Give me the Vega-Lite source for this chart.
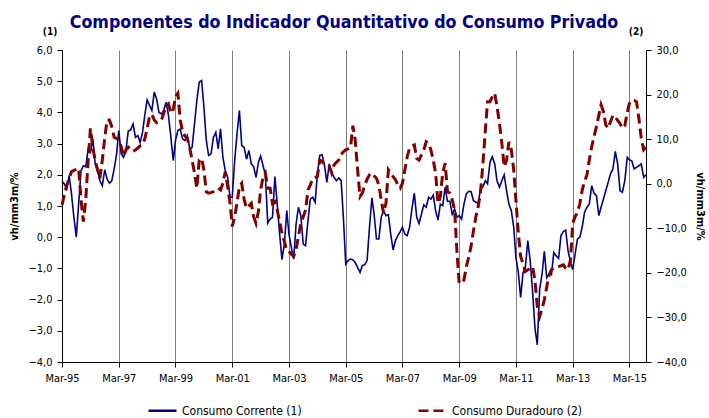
{
"$schema":"https://vega.github.io/schema/vega-lite/v6.json",
"autosize":{"type":"none"},
"padding":{"left":62,"top":50,"right":63,"bottom":56},
"width":584,"height":312,
"config":{"view":{"stroke":null},"font":"DejaVu Sans Condensed, DejaVu Sans","axis":{"labelColor":"#000","domainColor":"#000","tickColor":"#000","labelFontSize":11,"titleFontSize":11,"titleFontWeight":"bold","titleColor":"#000","labelOverlap":false}},
"title":{"text":"Componentes do Indicador Quantitativo do Consumo Privado","fontSize":17.7,"fontWeight":"bold","color":"#000080","anchor":"middle","offset":14,"dx":-10,"dy":19},
"data":{"values":[
{"mes":"1995-03","corrente":1.79,"duradouro":-4.75},{"mes":"1995-04","corrente":1.70,"duradouro":-2.5},{"mes":"1995-05","corrente":1.55,"duradouro":-0.3},{"mes":"1995-06","corrente":1.97,"duradouro":1.2},{"mes":"1995-07","corrente":1.39,"duradouro":2.7},{"mes":"1995-08","corrente":0.64,"duradouro":3.0},{"mes":"1995-09","corrente":0.0,"duradouro":3.2},{"mes":"1995-10","corrente":1.06,"duradouro":3.5},{"mes":"1995-11","corrente":2.13,"duradouro":-3.6},{"mes":"1995-12","corrente":2.29,"duradouro":-8.5},
{"mes":"1996-01","corrente":2.26,"duradouro":-3.6},{"mes":"1996-02","corrente":2.83,"duradouro":5.3},{"mes":"1996-03","corrente":2.72,"duradouro":12.4},{"mes":"1996-04","corrente":3.15,"duradouro":8.0},{"mes":"1996-05","corrente":2.35,"duradouro":5.3},{"mes":"1996-06","corrente":2.13,"duradouro":3.1},{"mes":"1996-07","corrente":1.81,"duradouro":1.2},{"mes":"1996-08","corrente":1.65,"duradouro":5.3},{"mes":"1996-09","corrente":2.16,"duradouro":10.2},{"mes":"1996-10","corrente":1.87,"duradouro":14.3},{"mes":"1996-11","corrente":1.73,"duradouro":14.3},{"mes":"1996-12","corrente":1.81,"duradouro":12.8},
{"mes":"1997-01","corrente":2.19,"duradouro":10.4},{"mes":"1997-02","corrente":2.67,"duradouro":10.2},{"mes":"1997-03","corrente":3.42,"duradouro":9.8},{"mes":"1997-04","corrente":2.67,"duradouro":8.3},{"mes":"1997-05","corrente":2.56,"duradouro":6.1},{"mes":"1997-06","corrente":2.78,"duradouro":7.6},{"mes":"1997-07","corrente":3.40,"duradouro":8.2},{"mes":"1997-08","corrente":3.44,"duradouro":7.7},{"mes":"1997-09","corrente":3.63,"duradouro":7.2},{"mes":"1997-10","corrente":3.20,"duradouro":7.6},{"mes":"1997-11","corrente":3.26,"duradouro":8.0},{"mes":"1997-12","corrente":3.04,"duradouro":8.5},
{"mes":"1998-01","corrente":3.36,"duradouro":8.7},{"mes":"1998-02","corrente":3.95,"duradouro":10.2},{"mes":"1998-03","corrente":4.40,"duradouro":12.4},{"mes":"1998-04","corrente":4.22,"duradouro":15.1},{"mes":"1998-05","corrente":4.06,"duradouro":15.6},{"mes":"1998-06","corrente":4.65,"duradouro":14.3},{"mes":"1998-07","corrente":4.43,"duradouro":13.7},{"mes":"1998-08","corrente":4.0,"duradouro":13.9},{"mes":"1998-09","corrente":3.95,"duradouro":14.3},{"mes":"1998-10","corrente":4.06,"duradouro":15.8},{"mes":"1998-11","corrente":4.33,"duradouro":17.4},{"mes":"1998-12","corrente":3.90,"duradouro":17.9},
{"mes":"1999-01","corrente":3.20,"duradouro":15.8},{"mes":"1999-02","corrente":2.45,"duradouro":16.7},{"mes":"1999-03","corrente":3.10,"duradouro":19.5},{"mes":"1999-04","corrente":3.42,"duradouro":20.3},{"mes":"1999-05","corrente":3.47,"duradouro":14.3},{"mes":"1999-06","corrente":3.15,"duradouro":11.7},{"mes":"1999-07","corrente":3.10,"duradouro":10.7},{"mes":"1999-08","corrente":3.26,"duradouro":10.2},{"mes":"1999-09","corrente":2.83,"duradouro":8.0},{"mes":"1999-10","corrente":2.88,"duradouro":5.3},{"mes":"1999-11","corrente":3.63,"duradouro":2.4},{"mes":"1999-12","corrente":4.38,"duradouro":-1.0},
{"mes":"2000-01","corrente":4.97,"duradouro":5.3},{"mes":"2000-02","corrente":5.02,"duradouro":5.7},{"mes":"2000-03","corrente":4.17,"duradouro":3.1},{"mes":"2000-04","corrente":3.10,"duradouro":-1.8},{"mes":"2000-05","corrente":2.62,"duradouro":-2.1},{"mes":"2000-06","corrente":2.67,"duradouro":-2.0},{"mes":"2000-07","corrente":3.20,"duradouro":-1.8},{"mes":"2000-08","corrente":3.36,"duradouro":-1.4},{"mes":"2000-09","corrente":2.83,"duradouro":-1.0},{"mes":"2000-10","corrente":3.47,"duradouro":-1.4},{"mes":"2000-11","corrente":2.56,"duradouro":0.1},{"mes":"2000-12","corrente":2.13,"duradouro":2.7},
{"mes":"2001-01","corrente":1.92,"duradouro":-0.6},{"mes":"2001-02","corrente":1.28,"duradouro":-4.4},{"mes":"2001-03","corrente":1.28,"duradouro":-9.6},{"mes":"2001-04","corrente":2.45,"duradouro":-7.4},{"mes":"2001-05","corrente":3.3,"duradouro":-4.4},{"mes":"2001-06","corrente":4.06,"duradouro":-0.6},{"mes":"2001-07","corrente":2.94,"duradouro":0.1},{"mes":"2001-08","corrente":2.88,"duradouro":-3.6},{"mes":"2001-09","corrente":2.5,"duradouro":-5.5},{"mes":"2001-10","corrente":2.78,"duradouro":-5.0},{"mes":"2001-11","corrente":2.35,"duradouro":-4.4},{"mes":"2001-12","corrente":2.26,"duradouro":-7.4},
{"mes":"2002-01","corrente":1.92,"duradouro":-8.9},{"mes":"2002-02","corrente":2.4,"duradouro":-6.2},{"mes":"2002-03","corrente":2.6,"duradouro":-1.5},{"mes":"2002-04","corrente":2.3,"duradouro":1.5},{"mes":"2002-05","corrente":2.0,"duradouro":2.4},{"mes":"2002-06","corrente":0.45,"duradouro":-1.0},{"mes":"2002-07","corrente":0.58,"duradouro":-1.0},{"mes":"2002-08","corrente":0.64,"duradouro":-4.4},{"mes":"2002-09","corrente":1.94,"duradouro":-4.0},{"mes":"2002-10","corrente":1.06,"duradouro":-5.9},{"mes":"2002-11","corrente":0.1,"duradouro":-8.5},{"mes":"2002-12","corrente":-0.72,"duradouro":-11.1},
{"mes":"2003-01","corrente":-0.22,"duradouro":-13},{"mes":"2003-02","corrente":0.85,"duradouro":-15},{"mes":"2003-03","corrente":0.10,"duradouro":-15.2},{"mes":"2003-04","corrente":-0.33,"duradouro":-15.8},{"mes":"2003-05","corrente":-0.70,"duradouro":-16.3},{"mes":"2003-06","corrente":0.42,"duradouro":-14.8},{"mes":"2003-07","corrente":0.96,"duradouro":-11.8},{"mes":"2003-08","corrente":0.69,"duradouro":-8.9},{"mes":"2003-09","corrente":-0.22,"duradouro":-7.4},{"mes":"2003-10","corrente":-0.27,"duradouro":-5.9},{"mes":"2003-11","corrente":0.53,"duradouro":-1.4},{"mes":"2003-12","corrente":1.22,"duradouro":-0.3},
{"mes":"2004-01","corrente":1.28,"duradouro":1.2},{"mes":"2004-02","corrente":1.12,"duradouro":1.4},{"mes":"2004-03","corrente":2.03,"duradouro":1.6},{"mes":"2004-04","corrente":2.62,"duradouro":5.3},{"mes":"2004-05","corrente":2.64,"duradouro":5.0},{"mes":"2004-06","corrente":2.29,"duradouro":4.2},{"mes":"2004-07","corrente":1.76,"duradouro":4.0},{"mes":"2004-08","corrente":2.35,"duradouro":3.9},{"mes":"2004-09","corrente":2.08,"duradouro":2.4},{"mes":"2004-10","corrente":1.92,"duradouro":4.2},{"mes":"2004-11","corrente":1.81,"duradouro":4.8},{"mes":"2004-12","corrente":1.90,"duradouro":5.3},
{"mes":"2005-01","corrente":1.81,"duradouro":6.6},{"mes":"2005-02","corrente":0.53,"duradouro":7.2},{"mes":"2005-03","corrente":-0.86,"duradouro":7.6},{"mes":"2005-04","corrente":-0.75,"duradouro":7.8},{"mes":"2005-05","corrente":-0.70,"duradouro":8.0},{"mes":"2005-06","corrente":-0.72,"duradouro":13.0},{"mes":"2005-07","corrente":-0.81,"duradouro":9.8},{"mes":"2005-08","corrente":-0.97,"duradouro":3.1},{"mes":"2005-09","corrente":-1.13,"duradouro":-2.9},{"mes":"2005-10","corrente":-0.91,"duradouro":-2.1},{"mes":"2005-11","corrente":-0.88,"duradouro":-0.3},{"mes":"2005-12","corrente":-0.75,"duradouro":1.0},
{"mes":"2006-01","corrente":0.32,"duradouro":2.0},{"mes":"2006-02","corrente":1.26,"duradouro":2.4},{"mes":"2006-03","corrente":0.74,"duradouro":1.8},{"mes":"2006-04","corrente":-0.06,"duradouro":1.2},{"mes":"2006-05","corrente":-0.06,"duradouro":-0.3},{"mes":"2006-06","corrente":0.64,"duradouro":-3.6},{"mes":"2006-07","corrente":0.85,"duradouro":-6.6},{"mes":"2006-08","corrente":0.69,"duradouro":-4.4},{"mes":"2006-09","corrente":0.72,"duradouro":3.1},{"mes":"2006-10","corrente":0.10,"duradouro":2.3},{"mes":"2006-11","corrente":-0.41,"duradouro":1.6},{"mes":"2006-12","corrente":-0.11,"duradouro":0.9},
{"mes":"2007-01","corrente":0.05,"duradouro":-0.3},{"mes":"2007-02","corrente":0.18,"duradouro":-1.0},{"mes":"2007-03","corrente":0.32,"duradouro":0.1},{"mes":"2007-04","corrente":0.10,"duradouro":3.1},{"mes":"2007-05","corrente":0.05,"duradouro":6.0},{"mes":"2007-06","corrente":0.32,"duradouro":8.0},{"mes":"2007-07","corrente":0.9,"duradouro":8.4},{"mes":"2007-08","corrente":1.41,"duradouro":8.7},{"mes":"2007-09","corrente":0.64,"duradouro":5.7},{"mes":"2007-10","corrente":0.44,"duradouro":5.3},{"mes":"2007-11","corrente":0.74,"duradouro":6.5},{"mes":"2007-12","corrente":1.04,"duradouro":7.6},
{"mes":"2008-01","corrente":0.96,"duradouro":9.4},{"mes":"2008-02","corrente":1.28,"duradouro":9.1},{"mes":"2008-03","corrente":1.22,"duradouro":7.6},{"mes":"2008-04","corrente":1.35,"duradouro":5.3},{"mes":"2008-05","corrente":0.85,"duradouro":2.4},{"mes":"2008-06","corrente":0.55,"duradouro":-4.4},{"mes":"2008-07","corrente":1.06,"duradouro":-2.9},{"mes":"2008-08","corrente":1.01,"duradouro":2.4},{"mes":"2008-09","corrente":1.6,"duradouro":4.6},{"mes":"2008-10","corrente":1.15,"duradouro":-1.8},{"mes":"2008-11","corrente":1.15,"duradouro":-2.1},{"mes":"2008-12","corrente":0.74,"duradouro":-3.6},
{"mes":"2009-01","corrente":0.9,"duradouro":-5.9},{"mes":"2009-02","corrente":0.64,"duradouro":-15.6},{"mes":"2009-03","corrente":0.69,"duradouro":-22.3},{"mes":"2009-04","corrente":0.58,"duradouro":-22.3},{"mes":"2009-05","corrente":1.06,"duradouro":-21.6},{"mes":"2009-06","corrente":1.39,"duradouro":-18.6},{"mes":"2009-07","corrente":1.47,"duradouro":-16.5},{"mes":"2009-08","corrente":1.46,"duradouro":-14},{"mes":"2009-09","corrente":1.17,"duradouro":-10.5},{"mes":"2009-10","corrente":1.12,"duradouro":-7.5},{"mes":"2009-11","corrente":1.09,"duradouro":-5.1},{"mes":"2009-12","corrente":1.55,"duradouro":-1.8},
{"mes":"2010-01","corrente":1.62,"duradouro":4.6},{"mes":"2010-02","corrente":1.81,"duradouro":12.1},{"mes":"2010-03","corrente":1.71,"duradouro":18.4},{"mes":"2010-04","corrente":2.40,"duradouro":18.4},{"mes":"2010-05","corrente":2.58,"duradouro":19.5},{"mes":"2010-06","corrente":2.35,"duradouro":20.3},{"mes":"2010-07","corrente":1.81,"duradouro":17.3},{"mes":"2010-08","corrente":1.6,"duradouro":13.6},{"mes":"2010-09","corrente":1.81,"duradouro":9.1},{"mes":"2010-10","corrente":2.0,"duradouro":3.8},{"mes":"2010-11","corrente":1.49,"duradouro":5.3},{"mes":"2010-12","corrente":1.06,"duradouro":9.4},
{"mes":"2011-01","corrente":0.85,"duradouro":7.6},{"mes":"2011-02","corrente":0.32,"duradouro":3.1},{"mes":"2011-03","corrente":-0.65,"duradouro":-3.6},{"mes":"2011-04","corrente":-1.13,"duradouro":-11},{"mes":"2011-05","corrente":-1.93,"duradouro":-16.3},{"mes":"2011-06","corrente":-1.13,"duradouro":-18},{"mes":"2011-07","corrente":-0.97,"duradouro":-19.7},{"mes":"2011-08","corrente":-0.11,"duradouro":-19.3},{"mes":"2011-09","corrente":-0.75,"duradouro":-19},{"mes":"2011-10","corrente":-1.71,"duradouro":-18.6},{"mes":"2011-11","corrente":-2.9,"duradouro":-21.6},{"mes":"2011-12","corrente":-3.45,"duradouro":-27.5},
{"mes":"2012-01","corrente":-1.66,"duradouro":-29.8},{"mes":"2012-02","corrente":-1.18,"duradouro":-28},{"mes":"2012-03","corrente":-0.45,"duradouro":-26},{"mes":"2012-04","corrente":-1.3,"duradouro":-23.1},{"mes":"2012-05","corrente":-1.18,"duradouro":-20.5},{"mes":"2012-06","corrente":-1.2,"duradouro":-19.3},{"mes":"2012-07","corrente":-0.49,"duradouro":-18.9},{"mes":"2012-08","corrente":-0.6,"duradouro":-18.7},{"mes":"2012-09","corrente":-0.68,"duradouro":-18.6},{"mes":"2012-10","corrente":0.05,"duradouro":-18.4},{"mes":"2012-11","corrente":0.18,"duradouro":-18.2},{"mes":"2012-12","corrente":0.23,"duradouro":-19},
{"mes":"2013-01","corrente":-0.45,"duradouro":-19.3},{"mes":"2013-02","corrente":-0.78,"duradouro":-17.1},{"mes":"2013-03","corrente":-1.04,"duradouro":-8.9},{"mes":"2013-04","corrente":-0.55,"duradouro":-7.4},{"mes":"2013-05","corrente":-0.06,"duradouro":-6.5},{"mes":"2013-06","corrente":0,"duradouro":-4.5},{"mes":"2013-07","corrente":0.32,"duradouro":-1.5},{"mes":"2013-08","corrente":0.8,"duradouro":0.5},{"mes":"2013-09","corrente":0.96,"duradouro":2.0},{"mes":"2013-10","corrente":1.06,"duradouro":5.3},{"mes":"2013-11","corrente":1.65,"duradouro":8.3},{"mes":"2013-12","corrente":1.41,"duradouro":10.6},
{"mes":"2014-01","corrente":1.33,"duradouro":12.8},{"mes":"2014-02","corrente":0.69,"duradouro":15.4},{"mes":"2014-03","corrente":0.96,"duradouro":17.7},{"mes":"2014-04","corrente":1.22,"duradouro":16.2},{"mes":"2014-05","corrente":1.49,"duradouro":13.2},{"mes":"2014-06","corrente":1.76,"duradouro":12.4},{"mes":"2014-07","corrente":2.03,"duradouro":13.9},{"mes":"2014-08","corrente":2.19,"duradouro":15.4},{"mes":"2014-09","corrente":2.75,"duradouro":14.9},{"mes":"2014-10","corrente":2.35,"duradouro":14.2},{"mes":"2014-11","corrente":1.49,"duradouro":13.5},{"mes":"2014-12","corrente":1.44,"duradouro":12.4},
{"mes":"2015-01","corrente":1.81,"duradouro":13.0},{"mes":"2015-02","corrente":2.56,"duradouro":16.0},{"mes":"2015-03","corrente":2.48,"duradouro":18.0},{"mes":"2015-04","corrente":2.45,"duradouro":18.8},{"mes":"2015-05","corrente":2.19,"duradouro":18.7},{"mes":"2015-06","corrente":2.24,"duradouro":18.4},{"mes":"2015-07","corrente":2.29,"duradouro":14.7},{"mes":"2015-08","corrente":2.35,"duradouro":10.2},{"mes":"2015-09","corrente":1.92,"duradouro":7.6},{"mes":"2015-10","corrente":2.0,"duradouro":8.2}
]},
"encoding":{
  "x":{"field":"mes","type":"temporal","scale":{"type":"utc","nice":false},
    "axis":{"title":null,"values":[{"year":1995,"month":3,"date":1,"utc":true},{"year":1997,"month":3,"date":1,"utc":true},{"year":1999,"month":3,"date":1,"utc":true},{"year":2001,"month":3,"date":1,"utc":true},{"year":2003,"month":3,"date":1,"utc":true},{"year":2005,"month":3,"date":1,"utc":true},{"year":2007,"month":3,"date":1,"utc":true},{"year":2009,"month":3,"date":1,"utc":true},{"year":2011,"month":3,"date":1,"utc":true},{"year":2013,"month":3,"date":1,"utc":true},{"year":2015,"month":3,"date":1,"utc":true}],
      "labelExpr":"utcFormat(datum.value, '%b-%y')","grid":true,"gridColor":"#808080","gridWidth":1,"tickSize":5,"labelPadding":5,"labelFlush":false}}
},
"layer":[
 {"layer":[
   {"transform":[{"fold":["corrente"],"as":["serie","valor"]}],
    "mark":{"type":"line","strokeWidth":1.6},
    "encoding":{
      "y":{"field":"valor","type":"quantitative","scale":{"domain":[-4,6],"nice":false,"zero":false},
        "axis":{"orient":"left","values":[-4,-3,-2,-1,0,1,2,3,4,5,6],"labelExpr":"replace(format(datum.value,'.1f'),'.',',')","grid":false,"tickSize":5,"labelPadding":5,"title":"vh/mm3m/%","titlePadding":8,"labelOverlap":false}},
      "color":{"field":"serie","type":"nominal","scale":{"domain":["corrente","duradouro"],"range":["#000080","#800000"]},
        "legend":{"orient":"none","legendX":85,"legendY":345,"direction":"horizontal","title":null,"symbolType":"stroke","symbolSize":784,"symbolStrokeWidth":2.4,"labelFontSize":12,"labelColor":"#000","columnPadding":111,"labelOffset":4,"labelLimit":300,
          "labelExpr":"datum.label == 'corrente' ? 'Consumo Corrente (1)' : 'Consumo Duradouro (2)'"}},
      "strokeDash":{"field":"serie","type":"nominal","scale":{"domain":["corrente","duradouro"],"range":[[1,0],[10,5]]}}
    }},
   {"data":{"values":[{"rotulo":"(1)","mes":"1995-03","topo":6}]},
    "mark":{"type":"text","fontWeight":"bold","fontSize":10,"dx":-12,"dy":-18,"color":"#000"},
    "encoding":{"x":{"field":"mes","type":"temporal"},
      "y":{"field":"topo","type":"quantitative","axis":{"orient":"left","values":[-4,-3,-2,-1,0,1,2,3,4,5,6],"labelExpr":"replace(format(datum.value,'.1f'),'.',',')","grid":false,"tickSize":5,"labelPadding":5,"title":"vh/mm3m/%","titlePadding":8,"labelOverlap":false}},
      "text":{"field":"rotulo","type":"nominal"}}}
 ]},
 {"layer":[
   {"transform":[{"fold":["duradouro"],"as":["serie","valor"]}],
    "mark":{"type":"line","strokeWidth":3,"strokeCap":"butt"},
    "encoding":{
      "y":{"field":"valor","type":"quantitative","scale":{"domain":[-40,30],"nice":false,"zero":false},
        "axis":{"orient":"right","values":[-40,-30,-20,-10,0,10,20,30],"labelExpr":"replace(format(datum.value,'.1f'),'.',',')","grid":false,"tickSize":5,"labelPadding":5,"title":"vh/mm3m/%","titleAngle":90,"titlePadding":8}},
      "color":{"field":"serie","type":"nominal"},
      "strokeDash":{"field":"serie","type":"nominal"}
    }},
   {"data":{"values":[{"rotulo":"(2)","mes":"2015-10","topo":30}]},
    "mark":{"type":"text","fontWeight":"bold","fontSize":10,"dx":-10,"dy":-18,"color":"#000"},
    "encoding":{"x":{"field":"mes","type":"temporal"},
      "y":{"field":"topo","type":"quantitative","axis":{"orient":"right","values":[-40,-30,-20,-10,0,10,20,30],"labelExpr":"replace(format(datum.value,'.1f'),'.',',')","grid":false,"tickSize":5,"labelPadding":5,"title":"vh/mm3m/%","titleAngle":90,"titlePadding":8}},
      "text":{"field":"rotulo","type":"nominal"}}}
 ]}
],
"resolve":{"scale":{"y":"independent"}}
}
